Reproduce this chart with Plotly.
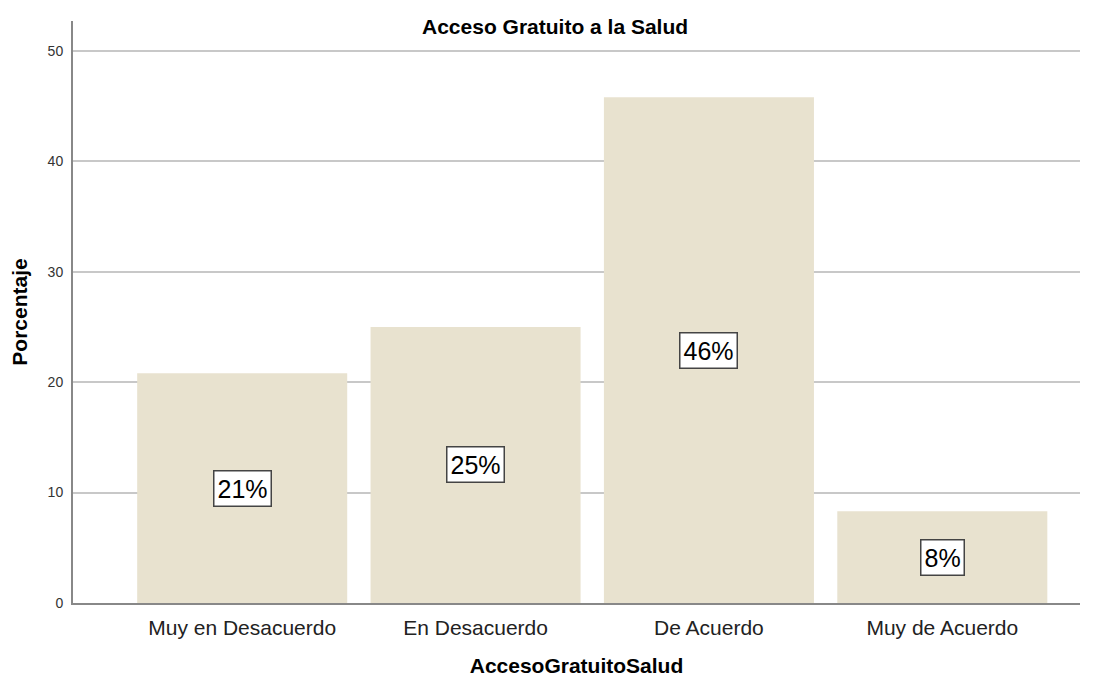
import plotly.graph_objects as go

categories = ["Muy en Desacuerdo", "En Desacuerdo", "De Acuerdo", "Muy de Acuerdo"]
values = [20.8, 25.0, 45.8, 8.3]
labels = ["21%", "25%", "46%", "8%"]

FONT = "Arial, Liberation Sans, sans-serif"

fig = go.Figure()
fig.add_trace(go.Bar(
    x=list(range(len(categories))), y=values,
    width=0.9, marker=dict(color="#E8E2CF", line=dict(width=0)),
    hoverinfo="skip",
))

for i, (v, lab) in enumerate(zip(values, labels)):
    fig.add_annotation(
        x=i, y=v / 2, text=lab, showarrow=False,
        font=dict(family=FONT, size=25, color="#000"),
        bgcolor="white", bordercolor="#444", borderwidth=1.5, borderpad=3,
    )

fig.add_annotation(
    x=0.479, y=0.99, xref="paper", yref="paper", xanchor="center", yanchor="middle",
    text="<b>Acceso Gratuito a la Salud</b>", showarrow=False,
    font=dict(family=FONT, size=21, color="#000"),
)

fig.update_layout(
    width=1092, height=669,
    margin=dict(l=65, r=20, t=13, b=74, autoexpand=False),
    paper_bgcolor="white", plot_bgcolor="white",
    showlegend=False,
    xaxis=dict(
        range=[-0.725, 3.59], automargin=False,
        tickmode="array", tickvals=list(range(len(categories))), ticktext=categories,
        showgrid=False, showline=True, linecolor="#888", linewidth=2,
        ticks="", ticklabelstandoff=5,
        tickfont=dict(family=FONT, size=21, color="#222"),
        title=dict(text="<b>AccesoGratuitoSalud</b>", standoff=22,
                   font=dict(family=FONT, size=21, color="#000")),
        zeroline=False,
    ),
    yaxis=dict(
        range=[0, 52.7], tickvals=[0, 10, 20, 30, 40, 50], automargin=False,
        showgrid=True, gridcolor="#C8C8C8", gridwidth=1.5,
        showline=True, linecolor="#888", linewidth=2,
        ticks="", ticklabelstandoff=5,
        tickfont=dict(family=FONT, size=14, color="#333"),
        title=dict(text="<b>Porcentaje</b>", standoff=16,
                   font=dict(family=FONT, size=21, color="#000")),
        zeroline=False,
    ),
)

fig.write_html("out.html")
